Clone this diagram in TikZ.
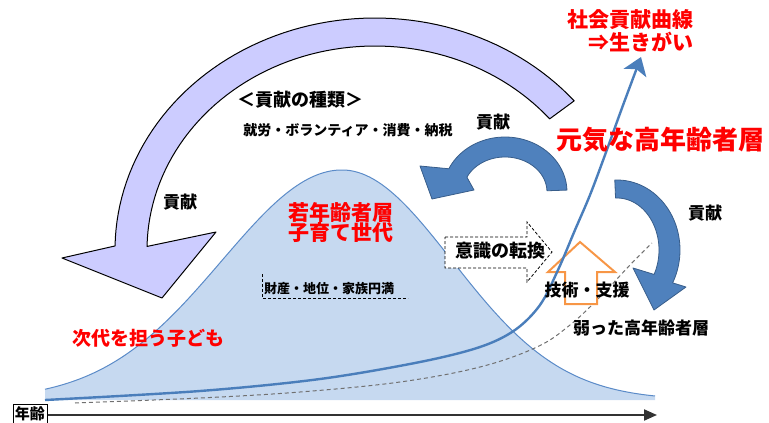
\documentclass[tikz,border=0pt]{standalone}
\usepackage{fontspec}
\setmainfont{Noto Sans CJK JP}
\usetikzlibrary{arrows.meta}
\definecolor{bellfill}{HTML}{C6D9F0}
\definecolor{bellline}{HTML}{5B8BC8}
\definecolor{socline}{HTML}{4A7EBB}
\definecolor{arrblue}{HTML}{4F81BD}
\definecolor{arrblueline}{HTML}{385D8A}
\definecolor{lavender}{HTML}{CCCCFF}
\definecolor{orangeline}{HTML}{F79646}
\definecolor{jpred}{HTML}{FF0000}
\definecolor{weakline}{HTML}{707070}
\begin{document}
\begin{tikzpicture}[x=1pt,y=-1pt,
  lbl/.style={font=\bfseries\fontsize{#1}{#1}\selectfont, inner sep=0pt, text=black},
  redlbl/.style={lbl=#1, text=jpred},
  purplearrow/.style={fill=lavender, draw=black, line width=1pt, line join=round},
  bluearrow/.style={fill=arrblue, draw=arrblueline, line width=0.8pt, line join=round},
  orangearrow/.style={fill=white, draw=orangeline, line width=2pt, line join=miter},
  callout/.style={fill=white, draw=black, line width=0.8pt, dash pattern=on 3pt off 2pt},
  soccurve/.style={draw=socline, line width=2.4pt, -{Stealth[length=17pt,width=24pt,inset=4pt]}},
  weakcurve/.style={draw=weakline, line width=1pt, dash pattern=on 4pt off 3pt},
  axisline/.style={draw=black!80, line width=2pt, -{Triangle[length=13pt,width=11pt]}}]
\useasboundingbox (0,0) rectangle (769,423);

% big lavender arrow
\path[purplearrow]
  plot[domain=-40:-179, samples=70] ({375+260*cos(\x)},{250+232*sin(\x)})
  -- (62,258) -- (162,298) -- (216,232)
  -- plot[domain=-179:-40, samples=70] ({375+228*cos(\x)},{250+204*sin(\x)})
  -- cycle;

% bell curve
\fill[bellfill] (45,400)
  -- plot[domain=45:342, samples=80] ({\x},{400-230*exp(-0.5*((\x-342)/120)^2)})
  -- plot[domain=342:655, samples=80] ({\x},{400-230*exp(-0.5*((\x-342)/110)^2)})
  -- (655,400) -- cycle;
\draw[bellline, line width=1pt]
  plot[domain=45:342, samples=80] ({\x},{400-230*exp(-0.5*((\x-342)/120)^2)})
  -- plot[domain=342:655, samples=80] ({\x},{400-230*exp(-0.5*((\x-342)/110)^2)});

% dashed partial frame
\coordinate (frtop) at (262,274);
\coordinate (frcorner) at (262,298);
\coordinate (frend) at (408,298);
\draw[black, line width=0.8pt, dash pattern=on 3pt off 2pt] (frtop) -- (frcorner) -- (frend);

% callout arrow
\path[callout] (445,237) -- (527,237) -- (527,222) -- (552,252) -- (527,282) -- (527,268) -- (445,268) -- cycle;

% weak curve
\draw[weakcurve] plot[smooth, tension=0.6] coordinates {(75,403) (200,398) (300,392) (400,382) (480,367) (537,347) (570,325) (600,297) (630,265) (652,243)};

% orange arrow
\path[orangearrow] (580,242) -- (615,272) -- (597,272) -- (597,304) -- (565,304) -- (565,272) -- (548,272) -- cycle;

% social contribution curve
\draw[soccurve] plot[smooth, tension=0.55] coordinates {(45,400) (200,391) (320,379) (420,362) (480,347) (515,330) (540,305) (558,270) (575,230) (590,195) (605,155) (622,108) (641,57)};

% blue arrows
\path[bluearrow]
  plot[domain=-2:-155, samples=50] ({505+62*cos(\x)},{192+55*sin(\x)})
  -- (420,166) -- (432,199) -- (474,190)
  -- plot[domain=-155:-2, samples=50] ({505+42*cos(\x)},{192+35*sin(\x)})
  -- cycle;
\path[bluearrow]
  plot[domain=-92:28, samples=50] ({617+63*cos(\x)},{250+70*sin(\x)})
  -- (686,287) -- (654,310) -- (633,268)
  -- plot[domain=28:-92, samples=50] ({617+42*cos(\x)},{250+52*sin(\x)})
  -- cycle;

% axis
\node[lbl=15, draw=black, line width=1pt, inner sep=2pt] (age) at (30,414) {年齢};
\coordinate (axisend) at (657,415);
\draw[axisline] (age.east |- axisend) -- (axisend);

% labels
\node[lbl=18] (kind) at (300,100) {＜貢献の種類＞};
\node[lbl=14] (kinds) at (348,130) {就労・ボランティア・消費・納税};
\node[lbl=17] (contribA) at (493,122) {貢献};
\node[lbl=17] (contribB) at (180,202) {貢献};
\node[lbl=17] (contribC) at (705,213) {貢献};
\node[redlbl=21] (young1) at (341,212) {若年齢者層};
\node[redlbl=21] (young2) at (341,233) {子育て世代};
\node[redlbl=19] (child) at (148,338) {次代を担う子ども};
\node[redlbl=26] (genki) at (660,140) {元気な高年齢者層};
\node[redlbl=21, anchor=east] (curve1) at (694,20) {社会貢献曲線};
\node[redlbl=21, anchor=east] (curve2) at (694,42) {⇒生きがい};
\node[lbl=18] (ishiki) at (500,251) {意識の転換};
\node[lbl=13] (zaisan) at (329,289) {財産・地位・家族円満};
\node[lbl=17] (gijutsu) at (587,290) {技術・支援};
\node[lbl=17] (weak) at (641,328) {弱った高年齢者層};
\end{tikzpicture}
\end{document}
